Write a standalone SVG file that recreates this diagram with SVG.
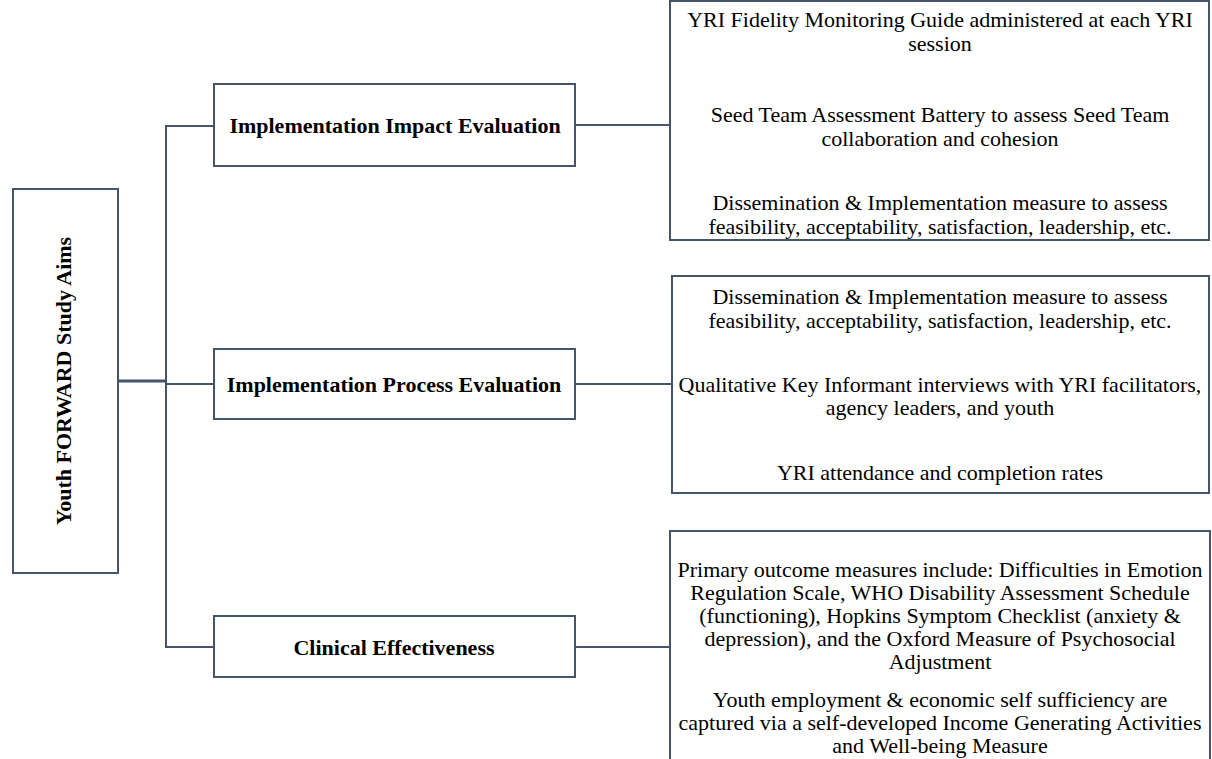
<svg xmlns="http://www.w3.org/2000/svg" width="1212" height="759" viewBox="0 0 1212 759">
<style>
.box{fill:#fff;stroke:#44546a;stroke-width:2}
.ln{fill:none;stroke:#44546a;stroke-width:2}
.lbl{font-family:"Liberation Serif","Times New Roman",serif;font-weight:bold;font-size:22px;fill:#000;text-anchor:middle}
.txt{font-family:"Liberation Serif","Times New Roman",serif;font-size:22px;fill:#000;text-anchor:middle}
</style>
<rect width="1212" height="759" fill="#fff"/>
<g id="connectors">
<line class="ln" x1="118" y1="381" x2="166" y2="381" style="stroke-width:3"/>
<line class="ln" x1="166" y1="125" x2="166" y2="648"/>
<line class="ln" x1="166" y1="126" x2="214" y2="126"/>
<line class="ln" x1="166" y1="384" x2="214" y2="384"/>
<line class="ln" x1="165" y1="647" x2="214" y2="647"/>
<line class="ln" x1="575" y1="125" x2="670" y2="125"/>
<line class="ln" x1="575" y1="384" x2="672" y2="384"/>
<line class="ln" x1="575" y1="647" x2="670" y2="647"/>
</g>
<g id="root">
<rect class="box" x="13" y="189" width="105" height="384"/>
<text class="lbl" transform="translate(71,381) rotate(-90)">Youth FORWARD Study Aims</text>
</g>
<g id="impact">
<rect class="box" x="214" y="84" width="361" height="82"/>
<text class="lbl" x="395" y="133">Implementation Impact Evaluation</text>
</g>
<g id="process">
<rect class="box" x="214" y="349" width="361" height="70"/>
<text class="lbl" x="394" y="392">Implementation Process Evaluation</text>
</g>
<g id="clinical">
<rect class="box" x="214" y="616" width="361" height="61"/>
<text class="lbl" x="394" y="655">Clinical Effectiveness</text>
</g>
<g id="impact-measures">
<rect class="box" x="670" y="1" width="539" height="239"/>
<text class="txt" x="940" y="27">YRI Fidelity Monitoring Guide administered at each YRI</text>
<text class="txt" x="940" y="51">session</text>
<text class="txt" x="940" y="122">Seed Team Assessment Battery to assess Seed Team</text>
<text class="txt" x="940" y="146">collaboration and cohesion</text>
<text class="txt" x="940" y="210">Dissemination &amp; Implementation measure to assess</text>
<text class="txt" x="940" y="234">feasibility, acceptability, satisfaction, leadership, etc.</text>
</g>
<g id="process-measures">
<rect class="box" x="672" y="276" width="537" height="217"/>
<text class="txt" x="940" y="304">Dissemination &amp; Implementation measure to assess</text>
<text class="txt" x="940" y="328">feasibility, acceptability, satisfaction, leadership, etc.</text>
<text class="txt" x="940" y="392">Qualitative Key Informant interviews with YRI facilitators,</text>
<text class="txt" x="940" y="415">agency leaders, and youth</text>
<text class="txt" x="940" y="480">YRI attendance and completion rates</text>
</g>
<g id="clinical-measures">
<rect class="box" x="670" y="531" width="540" height="240"/>
<text class="txt" x="940" y="577">Primary outcome measures include: Difficulties in Emotion</text>
<text class="txt" x="940" y="600">Regulation Scale, WHO Disability Assessment Schedule</text>
<text class="txt" x="940" y="623">(functioning), Hopkins Symptom Checklist (anxiety &amp;</text>
<text class="txt" x="940" y="646">depression), and the Oxford Measure of Psychosocial</text>
<text class="txt" x="940" y="669">Adjustment</text>
<text class="txt" x="940" y="707">Youth employment &amp; economic self sufficiency are</text>
<text class="txt" x="940" y="730">captured via a self-developed Income Generating Activities</text>
<text class="txt" x="940" y="753">and Well-being Measure</text>
</g>
</svg>
